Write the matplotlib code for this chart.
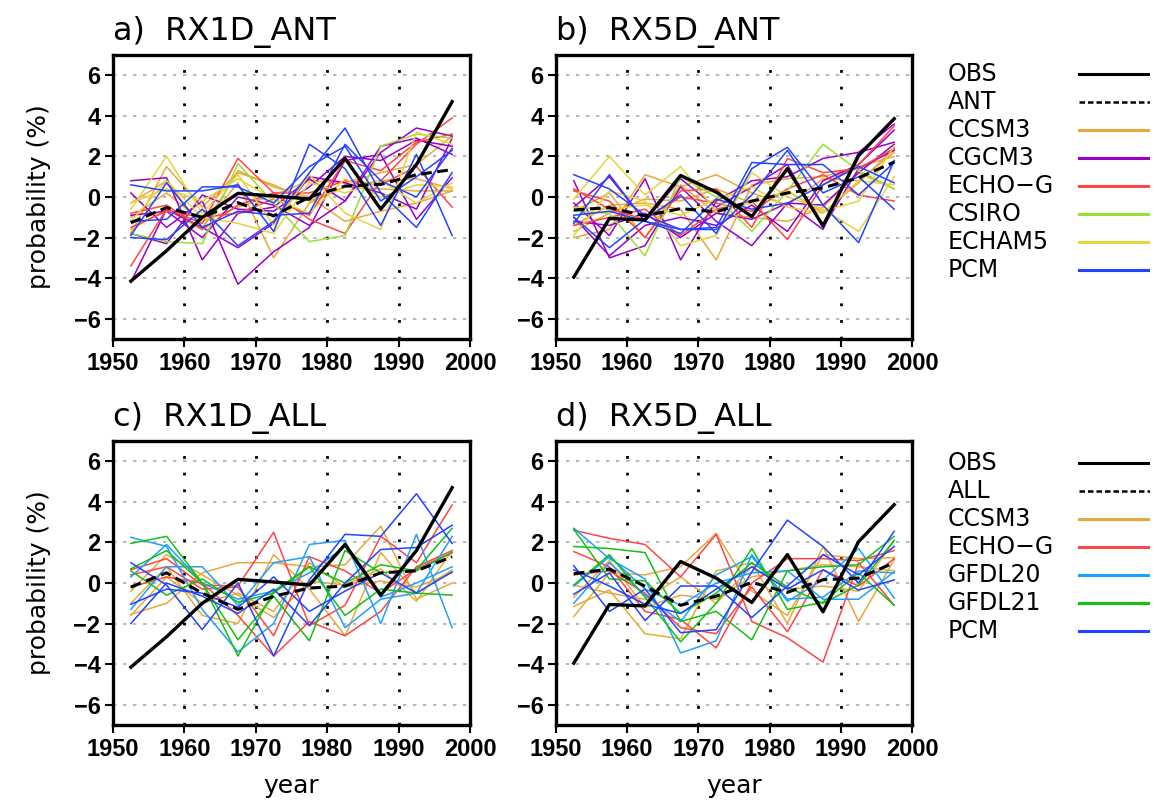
import numpy as np
import matplotlib.pyplot as plt

# pentad centres 1952.5 ... 1997.5
years = [1952.5, 1957.5, 1962.5, 1967.5, 1972.5, 1977.5, 1982.5, 1987.5, 1992.5, 1997.5]

obs_rx1d = [-4.15, -2.65, -1.0, 0.18, 0.05, -0.1, 1.9, -0.6, 1.6, 4.7]
obs_rx5d = [-3.95, -1.06, -1.13, 1.06, 0.24, -0.96, 1.4, -1.42, 2.04, 3.86]

ant_mean_rx1d = [-1.27, -0.52, -1.0, -0.28, -0.93, 0.0, 0.54, 0.62, 1.1, 1.35]
ant_mean_rx5d = [-0.64, -0.52, -0.93, -0.57, -0.73, -0.2, 0.2, 0.45, 0.95, 1.72]
all_mean_rx1d = [-0.2, 0.5, -0.5, -1.3, -0.65, -0.25, -0.15, 0.5, 0.6, 1.3]
all_mean_rx5d = [0.46, 0.69, -0.16, -1.1, -0.65, 0.03, -0.46, 0.16, 0.24, 1.0]

# a) RX1D_ANT runs
a_ccsm3 = [[-1.8, 1.5, -0.5, 1.2, 0.6, -0.2, 0.5, 0.4, 0.3, 0.3],
           [-0.3, 0.8, -1.5, 0.7, -3.0, -0.3, 0.5, 0.8, 0.9, 0.4],
           [-1.6, -0.6, -1.6, 1.3, 0.5, 0.0, -1.2, -0.7, -0.3, 0.3],
           [-1.0, 0.2, -1.2, -0.5, 0.1, 0.8, 0.7, 1.2, 1.6, 3.0]]
a_cgcm3 = [[0.8, 0.95, -3.1, -0.8, -0.5, 0.9, -0.2, 2.2, 3.4, 3.0],
           [0.2, -1.5, -0.2, -4.3, -2.7, -1.5, 1.8, 2.1, -1.1, 0.95],
           [-0.9, -0.7, -2.0, 0.0, -0.4, -1.4, -0.2, 2.5, 2.9, 2.1],
           [-4.2, -0.6, -1.5, -2.5, -1.3, 1.0, 0.7, 0.2, -0.6, 2.9],
           [-1.8, -2.3, 0.1, -0.6, -0.7, 0.5, 2.0, 1.8, 2.8, 2.5]]
a_echog = [[-3.4, -0.6, -1.3, 1.9, 0.2, -1.1, -1.8, 0.8, 2.6, 3.9],
           [-1.5, -0.7, -1.0, -0.8, -0.1, -0.9, 1.8, 1.3, 2.7, 3.1],
           [-0.8, -0.4, -1.6, -0.4, 0.2, 0.2, 0.8, 0.6, 1.5, -0.5]]
a_csiro = [[-1.8, -2.2, -2.3, 1.65, -0.3, -2.2, -1.9, 2.5, 3.1, 2.9]]
a_echam5 = [[-0.6, 2.0, -0.8, 1.1, -1.4, 1.1, -0.8, -1.6, 3.2, 2.6],
            [-1.2, 0.8, -1.0, -1.3, -1.8, 0.7, 0.2, 0.8, -0.3, 0.7],
            [-0.3, 0.4, -0.2, 0.9, -0.1, -0.8, 0.9, 0.0, 0.6, 0.5]]
a_pcm = [[0.6, 0.3, 0.3, 0.6, -1.7, 2.6, 1.4, -1.4, 2.1, -1.9],
         [-2.0, -2.1, -0.6, -2.4, -1.2, 1.2, 3.4, 0.2, -1.5, 1.2],
         [-1.2, -1.1, 0.5, 0.5, -0.3, 1.5, 2.5, -0.2, 1.0, 2.3],
         [-1.9, 0.7, -1.5, -0.7, -0.9, -0.8, 2.6, 0.8, 0.0, 2.4]]

# b) RX5D_ANT runs
b_ccsm3 = [[-2.0, -1.6, 1.1, 0.5, 1.1, 0.2, -0.4, 0.9, 0.8, 2.2],
           [-1.4, -0.4, -0.3, -0.6, -3.1, 0.6, 0.9, 1.0, 1.5, 2.0],
           [-0.7, 0.2, -2.0, 0.6, -0.8, -1.0, -1.2, -0.5, 1.2, 0.4],
           [-1.7, -0.8, -0.1, -0.2, 0.4, -0.3, 0.3, -0.8, 0.7, 2.4]]
b_cgcm3 = [[0.8, -3.0, -2.4, 0.5, -1.2, -2.4, -0.3, -1.6, 2.2, 3.6],
           [-0.3, -1.9, 0.9, -3.1, -0.2, 0.8, 1.0, 1.9, 2.2, 2.7],
           [-1.0, -2.9, -1.4, -1.0, -1.4, -0.4, -1.7, 0.8, 1.6, 3.3],
           [-0.5, 1.0, -1.2, 0.9, -0.5, 0.5, 1.6, -1.5, 1.4, 2.3],
           [-1.2, -1.4, -0.8, -2.0, -0.8, -1.1, -0.3, -0.4, 1.2, 2.6]]
b_echog = [[0.3, -0.2, -2.0, 0.3, 0.4, -1.5, 1.9, 1.2, 1.4, 2.4],
           [-1.4, -1.0, -0.6, -1.9, -0.6, -0.2, -2.1, 0.6, 1.6, 3.5],
           [0.4, -0.6, -1.1, 0.0, -0.3, -0.7, 0.4, 1.1, 0.1, -0.2]]
b_csiro = [[-0.7, -0.8, -2.9, 1.0, 0.0, -1.7, 0.3, 2.6, 1.3, 0.4]]
b_echam5 = [[-0.1, 2.0, 0.1, 1.5, -0.7, -0.3, 0.3, -0.7, -0.2, 2.5],
            [-1.9, 0.3, -0.2, -2.4, -1.9, 1.2, 0.0, -0.6, -1.7, 1.0],
            [-0.5, -0.6, -0.4, -0.9, -0.1, 0.5, -0.5, -0.8, 0.8, 0.6]]
b_pcm = [[1.1, 0.4, -0.9, -1.6, -1.5, 1.7, 1.6, 1.6, 0.1, 1.7],
         [-1.0, -2.5, -1.1, 0.1, -1.8, 1.4, 2.45, 0.2, 1.0, -0.6],
         [-1.3, 1.1, -1.2, -1.8, -0.1, -0.6, -0.3, 0.6, 1.5, 0.7],
         [-0.9, -0.7, -1.2, -1.6, -1.6, 0.1, 2.3, -0.4, -2.25, 1.8]]

# c) RX1D_ALL runs
c_ccsm3 = [[-1.55, -1.0, 0.5, 1.0, 1.0, 0.8, 0.9, 2.8, -0.8, 0.0],
           [-1.0, 0.8, -1.6, -2.0, 1.4, -0.3, -2.6, 1.5, -0.5, 0.65],
           [-0.4, 1.4, 0.4, -0.6, -1.7, 0.1, -0.1, 0.7, -0.9, 1.6],
           [-1.6, 0.3, -1.0, -0.5, -1.4, 1.0, -0.2, 0.1, -0.2, 0.5]]
c_echog = [[0.65, 1.2, -0.1, -0.15, 2.5, -2.1, -1.1, 2.3, 1.0, 3.85],
           [0.4, 0.8, -0.3, -0.2, -2.6, 1.3, 0.6, -0.5, 0.7, 1.5],
           [-0.2, 0.3, 0.0, -1.6, -3.6, -1.9, -2.6, -1.4, 0.8, 1.6]]
c_gfdl20 = [[2.25, 1.8, -1.3, -3.4, -2.0, 1.9, 2.1, -2.0, 2.4, -2.2],
            [-1.3, 0.8, 0.8, -1.1, 1.0, 1.3, -2.2, -0.8, -0.5, 2.3],
            [0.3, 1.9, 0.0, -0.8, -0.4, 0.5, 1.8, -0.7, 0.0, 0.8]]
c_gfdl21 = [[1.95, 2.3, 0.0, -2.8, -0.65, -2.85, 1.6, 0.5, 0.65, 2.7],
            [0.6, -0.6, 0.2, -0.95, -0.5, 0.8, -1.6, -0.3, -0.5, -0.6],
            [0.7, 1.6, 0.0, -3.6, -0.4, 0.8, 0.0, 0.9, 0.6, 1.5]]
c_pcm = [[1.0, -0.1, -2.3, 0.0, -3.6, 0.15, 2.4, 2.3, 4.4, 1.95],
         [-2.0, 0.0, -0.65, -1.5, -0.3, -2.1, 0.0, 1.65, 1.75, 2.85],
         [-1.05, -0.3, -0.5, -1.2, 0.3, -1.4, -0.4, 0.5, -0.5, 0.55]]

# d) RX5D_ALL runs
d_ccsm3 = [[-1.15, -0.35, -2.5, -2.75, 0.6, 1.0, -2.0, 1.8, -1.9, 1.15],
           [-1.65, 0.5, 0.4, 0.8, 2.45, -0.4, -1.6, 1.4, 1.2, 1.25],
           [-0.1, -0.5, -0.8, 0.3, -1.0, 0.8, -0.3, -0.15, -0.4, 2.1],
           [-0.7, 1.1, -1.2, -0.6, -0.8, 0.3, 0.6, 0.9, 0.8, 0.6]]
d_echog = [[2.6, 2.2, 1.9, 0.3, 2.4, -1.9, -2.7, -3.9, 1.0, -1.1],
           [1.55, 0.8, -1.4, -1.8, -3.2, 0.0, 1.2, 1.2, 1.1, 1.6],
           [0.4, 0.6, -0.5, -2.2, -2.5, -0.2, -2.4, 0.65, -0.15, 1.2]]
d_gfdl20 = [[2.7, 1.2, 0.2, -3.45, -2.85, 1.4, -0.9, 0.15, 1.7, -0.75],
            [-1.0, 1.0, -0.6, -1.9, 0.4, 1.3, -0.8, -0.7, 0.6, 0.5],
            [-0.15, 1.3, -0.3, -1.1, 0.0, 0.5, 0.6, -0.8, -0.8, 0.55]]
d_gfdl21 = [[1.8, 1.7, 1.5, -1.9, -1.4, -2.8, 0.6, 0.8, 0.9, 2.3],
            [-0.1, 1.4, -0.7, -2.9, -1.0, 1.7, -1.3, -0.95, 0.5, -1.1],
            [2.65, 0.2, 0.1, -1.5, -0.5, 1.0, -0.2, -1.0, -0.1, 2.1]]
d_pcm = [[0.85, -1.4, -0.3, -2.45, -2.3, 0.55, 3.1, 1.8, 0.0, 2.55],
         [-0.55, 0.5, -1.85, -0.15, -0.15, -1.7, -0.15, 1.4, 0.4, 1.8],
         [0.65, -0.15, -1.05, -1.5, -0.3, 0.8, -0.3, 0.65, -0.35, 0.15]]

colors = {'CCSM3': '#E8A93A', 'CGCM3': '#9A00C8', 'ECHO-G': '#FF4545',
          'CSIRO': '#99E033', 'ECHAM5': '#E6D43A', 'PCM': '#2244FF',
          'GFDL20': '#1EA0FF', 'GFDL21': '#14C014'}

ant_models = [('CCSM3', 'CCSM3'), ('CGCM3', 'CGCM3'), ('ECHO-G', 'ECHO\u2212G'),
              ('CSIRO', 'CSIRO'), ('ECHAM5', 'ECHAM5'), ('PCM', 'PCM')]
all_models = [('CCSM3', 'CCSM3'), ('ECHO-G', 'ECHO\u2212G'), ('GFDL20', 'GFDL20'),
              ('GFDL21', 'GFDL21'), ('PCM', 'PCM')]

panels = [
    ('a)  RX1D_ANT', [a_ccsm3, a_cgcm3, a_echog, a_csiro, a_echam5, a_pcm], ant_models, ant_mean_rx1d, obs_rx1d),
    ('b)  RX5D_ANT', [b_ccsm3, b_cgcm3, b_echog, b_csiro, b_echam5, b_pcm], ant_models, ant_mean_rx5d, obs_rx5d),
    ('c)  RX1D_ALL', [c_ccsm3, c_echog, c_gfdl20, c_gfdl21, c_pcm], all_models, all_mean_rx1d, obs_rx1d),
    ('d)  RX5D_ALL', [d_ccsm3, d_echog, d_gfdl20, d_gfdl21, d_pcm], all_models, all_mean_rx5d, obs_rx5d),
]

W, H = 1156, 800
fig = plt.figure(figsize=(W / 100, H / 100), dpi=100)

def px_axes(left, top, right, bottom):
    return fig.add_axes([left / W, 1 - bottom / H, (right - left) / W, (bottom - top) / H])

boxes = [(113, 55, 470, 339), (556, 55, 912, 339),
         (113, 441, 470, 725), (556, 441, 912, 725)]
tickfont = {'family': ['Liberation Sans Narrow', 'Liberation Sans', 'DejaVu Sans'],
            'weight': 'bold', 'size': 17}

for i, (title, runs, models, mean, obs) in enumerate(panels):
    ax = px_axes(*boxes[i])
    for (key, lab), group in zip(models, runs):
        for r in group:
            ax.plot(years, r, color=colors[key], lw=1.1)
    ax.plot(years, mean, color='black', lw=2.2, dashes=(3.5, 1.8))
    ax.plot(years, obs, color='black', lw=2.4)

    ax.set_xlim(1950, 2000)
    ax.set_ylim(-7, 7)
    ax.set_yticks([-6, -4, -2, 0, 2, 4, 6])
    ax.set_xticks([1950, 1960, 1970, 1980, 1990, 2000])
    ax.set_yticklabels(['\u22126', '\u22124', '\u22122', '0', '2', '4', '6'], fontdict=tickfont)
    ax.set_xticklabels(['1950', '1960', '1970', '1980', '1990', '2000'], fontdict=tickfont)
    for y in [-6, -4, -2, 0, 2, 4, 6]:
        ax.axhline(y, color='#aaaaaa', lw=1.2, dashes=(2, 4), zorder=0)
    for x in [1960, 1970, 1980, 1990]:
        ax.axvline(x, color='black', lw=2.0, dashes=(1, 5), zorder=0)
    ax.tick_params(direction='out', length=6, width=1.5, pad=3)
    for s in ax.spines.values():
        s.set_linewidth(2.4)
    ax.set_title(title, loc='left', fontsize=23, pad=11)
    if i % 2 == 0:
        ax.set_ylabel('probability (%)', fontsize=18, labelpad=16)
    if i >= 2:
        ax.set_xlabel('year', fontsize=18, labelpad=10)

# legends on the right
leg_sets = [(['OBS', 'ANT'], ant_models, (948, 60, 1150, 284)),
            (['OBS', 'ALL'], all_models, (948, 449, 1150, 645))]
for (first, models, box) in leg_sets:
    lax = px_axes(*box)
    lax.axis('off')
    n = len(models) + 2
    lax.set_xlim(0, 1)
    lax.set_ylim(n - 0.5, -0.5)
    lax.text(0, 0, first[0], fontsize=17, va='center')
    lax.plot([0.65, 1.0], [0, 0], color='black', lw=2.2)
    lax.text(0, 1, first[1], fontsize=17, va='center')
    lax.plot([0.65, 1.0], [1, 1], color='black', lw=1.8, dashes=(2.2, 1.2))
    for j, (key, lab) in enumerate(models):
        lax.text(0, j + 2, lab, fontsize=17, va='center')
        lax.plot([0.65, 1.0], [j + 2, j + 2], color=colors[key], lw=2.2)

fig.savefig('out.png', dpi=100)
